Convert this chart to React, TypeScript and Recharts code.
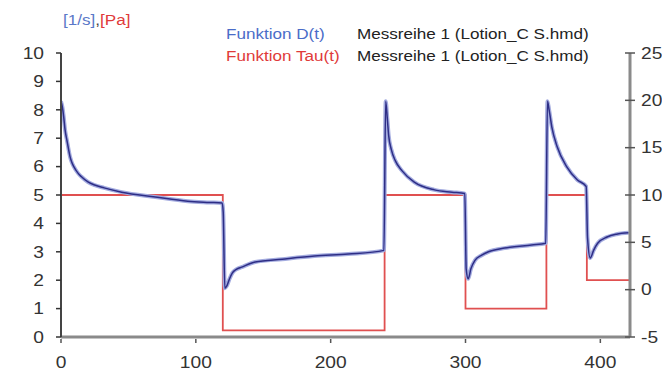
import React from 'react';
import { LineChart, Line, XAxis, YAxis } from 'recharts';

// Funktion D(t) [1/s]
const dTime = [
  0, 1, 2, 3, 4.5, 6.7, 8, 9.5, 12.6, 15, 20, 25, 32, 45, 70, 94, 110, 119.5, 120.3,
  121.5, 123, 125, 127, 130, 134, 144, 164, 188, 213, 239.5,
  240.8, 242, 243, 245, 248, 253, 262, 277, 290, 299.5,
  300.5, 302, 304, 307, 312, 317, 329, 349, 359.5,
  360.8, 362, 364, 368, 375, 383, 389.5,
  390.5, 392.5, 395, 398, 405, 412, 421,
];
const dValue = [
  8.3, 8.1, 7.75, 7.3, 6.9, 6.35, 6.15, 6.0, 5.77, 5.65, 5.46, 5.35, 5.25, 5.1, 4.93, 4.78, 4.74, 4.72, 4.4,
  1.72, 1.8, 2.05, 2.25, 2.38, 2.46, 2.64, 2.74, 2.85, 2.92, 3.05,
  8.3, 7.7, 7.1, 6.6, 6.2, 5.85, 5.45, 5.18, 5.1, 5.05,
  2.4, 2.05, 2.4, 2.7, 2.88, 3.0, 3.13, 3.24, 3.3,
  8.3, 8.0, 7.4, 6.7, 6.0, 5.53, 5.3,
  3.5, 2.78, 3.05, 3.3, 3.52, 3.62, 3.67,
];

// Funktion Tau(t) [Pa] - step levels
const tauTime = [0, 120, 240, 300, 360, 390, 422];
const tauValue = [10, -4.3, 10, -2, 10, 1, 1];

const leftTicks = [0, 1, 2, 3, 4, 5, 6, 7, 8, 9, 10];
const rightTicks = [-5, 0, 5, 10, 15, 20, 25];
const xTicks = [0, 100, 200, 300, 400];

const dData = dTime.map((t, i) => ({ t, d: dValue[i] }));
const tauData = tauTime.map((t, i) => ({ t, tau: tauValue[i] }));

const FONT = '"Liberation Sans", Arial, sans-serif';
const SX = 1.2;

const LeftTick = (props: any) => {
  const { x, y, payload } = props;
  return (
    <g transform={`translate(${x},${y})`}>
      <line x1={12} x2={17} y1={0} y2={0} stroke="#333" strokeWidth={1.5} />
      <text transform={`scale(${SX},1)`} textAnchor="end" dy="0.36em" fontSize={16} fill="#333" fontFamily={FONT}>
        {payload.value}
      </text>
    </g>
  );
};

const RightTick = (props: any) => {
  const { x, y, payload } = props;
  return (
    <g transform={`translate(${x},${y})`}>
      <line x1={-16} x2={-6} y1={0} y2={0} stroke="#555" strokeWidth={1.5} />
      <text transform={`scale(${SX},1)`} textAnchor="start" dy="0.36em" fontSize={16} fill="#333" fontFamily={FONT}>
        {payload.value}
      </text>
    </g>
  );
};

const BottomTick = (props: any) => {
  const { x, y, payload } = props;
  return (
    <g transform={`translate(${x},${y})`}>
      <line x1={0} x2={0} y1={-18} y2={-14} stroke="#555" strokeWidth={1.5} />
      <text transform={`scale(${SX},1)`} textAnchor="middle" dy="0.71em" fontSize={16} fill="#333" fontFamily={FONT}>
        {payload.value}
      </text>
    </g>
  );
};

const txt = (color: string): React.CSSProperties => ({ color, whiteSpace: 'nowrap' });

const label = (left: number, top: number): React.CSSProperties => ({
  position: 'absolute',
  left,
  top,
  fontFamily: FONT,
  fontSize: 14,
  lineHeight: '16px',
  transform: 'scaleX(1.22)',
  transformOrigin: 'left center',
  whiteSpace: 'nowrap',
});

export default function App() {
  return (
    <div style={{ position: 'absolute', left: 0, top: 0, width: 662, height: 376, background: '#fff', overflow: 'hidden' }}>
      <LineChart width={662} height={376} margin={{ top: 53, right: 0, bottom: 0, left: 0 }}>
        <XAxis
          xAxisId="x"
          dataKey="t"
          type="number"
          domain={[0, 422]}
          ticks={xTicks}
          height={39}
          tickSize={5}
          tickMargin={15}
          tickLine={false}
          tick={<BottomTick />}
          axisLine={{ stroke: '#8a8a8a', strokeWidth: 3 }}
          allowDataOverflow
        />
        <YAxis
          yAxisId="left"
          orientation="left"
          type="number"
          domain={[0, 10]}
          ticks={leftTicks}
          width={61}
          tickSize={5}
          tickMargin={12}
          tickLine={false}
          tick={<LeftTick />}
          axisLine={{ stroke: '#444', strokeWidth: 2 }}
          allowDataOverflow
        />
        <YAxis
          yAxisId="right"
          orientation="right"
          type="number"
          domain={[-5, 25]}
          ticks={rightTicks}
          width={32}
          tickSize={5}
          tickMargin={6}
          tickLine={false}
          tick={<RightTick />}
          axisLine={{ stroke: '#8a8a8a', strokeWidth: 3 }}
          allowDataOverflow
        />
        <Line
          xAxisId="x"
          yAxisId="right"
          data={tauData}
          dataKey="tau"
          type="stepAfter"
          stroke="#e05050"
          strokeWidth={1.8}
          dot={false}
          isAnimationActive={false}
        />
        <Line
          xAxisId="x"
          yAxisId="left"
          data={dData}
          dataKey="d"
          type="monotone"
          stroke="#a3abdf"
          strokeWidth={4}
          dot={false}
          isAnimationActive={false}
        />
        <Line
          xAxisId="x"
          yAxisId="left"
          data={dData}
          dataKey="d"
          type="monotone"
          stroke="#2e2e86"
          strokeWidth={1.5}
          dot={false}
          isAnimationActive={false}
        />
      </LineChart>

      <div style={label(63, 12)}>
        <span style={txt('#5a78c8')}>[1/s]</span>
        <span style={txt('#444')}>,</span>
        <span style={txt('#e03a3a')}>[Pa]</span>
      </div>

      <div style={label(226, 26)}>
        <span style={txt('#4a6cc8')}>Funktion D(t)</span>
      </div>
      <div style={label(357, 26)}>
        <span style={txt('#222')}>Messreihe 1 (Lotion_C S.hmd)</span>
      </div>
      <div style={label(226, 48)}>
        <span style={txt('#e03a3a')}>Funktion Tau(t)</span>
      </div>
      <div style={label(357, 48)}>
        <span style={txt('#222')}>Messreihe 1 (Lotion_C S.hmd)</span>
      </div>
    </div>
  );
}
